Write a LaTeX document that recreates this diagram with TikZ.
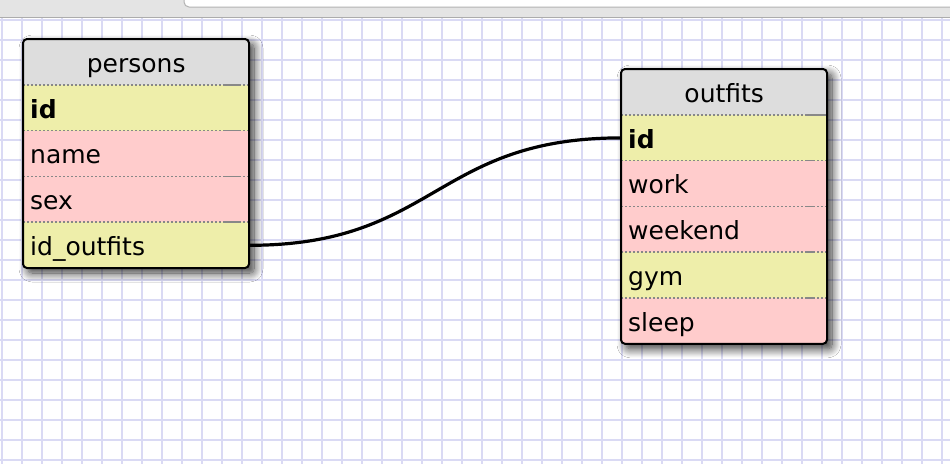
\documentclass[tikz,border=0pt]{standalone}
\usepackage{fontspec}
\setmainfont{DejaVu Sans}
\usetikzlibrary{shadows.blur}
\definecolor{hdrc}{HTML}{DDDDDD}
\definecolor{yelc}{HTML}{EEEEAA}
\definecolor{pinkc}{HTML}{FFCCCC}
\definecolor{sepc}{HTML}{888888}
\definecolor{gridc}{HTML}{DADAF4}
\definecolor{barc}{HTML}{E4E4E4}
\begin{document}
\begin{tikzpicture}[x=1pt,y=-1pt,
  font=\fontsize{25}{30}\selectfont,
  gridline/.style={gridc, line width=2pt},
  rowbox/.style={rectangle, draw=none, inner xsep=7pt, inner ysep=0pt,
    text height=26.2pt, text depth=6pt, minimum height=45.8pt,
    anchor=north west, align=left},
  hdrbox/.style={rowbox, fill=hdrc, align=center},
  pkbox/.style={rowbox, fill=yelc, font=\fontsize{25}{30}\selectfont\bfseries},
  ybox/.style={rowbox, fill=yelc},
  pbox/.style={rowbox, fill=pinkc},
  ptab/.style={text width=212pt},
  otab/.style={text width=192pt},
  sepline/.style={sepc, line width=1.6pt, dash pattern=on 2pt off 2pt},
  sepsolid/.style={sepc, line width=1.6pt},
  border/.style={draw=black, line width=2pt, rounded corners=4pt},
  tabshadow/.style={fill=white, rounded corners=4pt,
    blur shadow={shadow xshift=5pt, shadow yshift=-5pt, shadow blur radius=9pt, shadow opacity=80, shadow blur steps=12}},
  conn/.style={black, line width=3.2pt}
]
\useasboundingbox (0,0) rectangle (950,464);
\begin{scope}
\clip (0,0) rectangle (950,464);
\fill[white] (0,0) rectangle (950,464);
% grid
\foreach \i in {0,...,47} \draw[gridline] ({1.5+20*\i},17) -- ({1.5+20*\i},464);
\foreach \j in {0,...,22} \draw[gridline] (0,{19.5+20*\j}) -- (950,{19.5+20*\j});
% toolbar
\fill[barc] (0,0) rectangle (950,17);
\draw[gray!65, line width=1pt] (0,17) -- (950,17);
\draw[fill=white, draw=gray!60, line width=1pt, rounded corners=5pt] (184,-6) rectangle (960,7);

% persons table
\fill[tabshadow] (23,39) rectangle (249,268);
\begin{scope}
\clip[rounded corners=4pt] (23,39) rectangle (249,268);
\node[hdrbox, ptab] (p-hdr) at (23,39) {persons};
\node[pkbox, ptab] (p-id) at (23,84.8) {id};
\node[pbox, ptab] (p-name) at (23,130.6) {name};
\node[pbox, ptab] (p-sex) at (23,176.4) {sex};
\node[ybox, ptab] (p-idout) at (23,222.2) {id\_outfits};
\end{scope}
\foreach \y in {84.8,130.6,176.4,222.2} {
  \draw[sepline] (23,\y) -- (249,\y);
  \draw[sepsolid] (224,\y) -- (239,\y);
}
\draw[border] (23,39) rectangle (249,268);

% outfits table
\fill[tabshadow] (621,69) rectangle (827,343.8);
\begin{scope}
\clip[rounded corners=4pt] (621,69) rectangle (827,343.8);
\node[hdrbox, otab] (o-hdr) at (621,69) {outfits};
\node[pkbox, otab] (o-id) at (621,114.8) {id};
\node[pbox, otab] (o-work) at (621,160.6) {work};
\node[pbox, otab] (o-weekend) at (621,206.4) {weekend};
\node[ybox, otab] (o-gym) at (621,252.2) {gym};
\node[pbox, otab] (o-sleep) at (621,298) {sleep};
\end{scope}
\draw[sepline] (621,114.8) -- (827,114.8);
\draw[sepsolid] (806,114.8) -- (827,114.8);
\foreach \y in {160.6,206.4,252.2,298} {
  \draw[sepline] (621,\y) -- (827,\y);
  \draw[sepsolid] (806,\y) -- (814,\y);
}
\draw[border] (621,69) rectangle (827,343.8);

% connector
\draw[conn] (p-idout.east) .. controls +(186,0) and +(-186,0) .. (o-id.west);
\end{scope}
\end{tikzpicture}
\end{document}
